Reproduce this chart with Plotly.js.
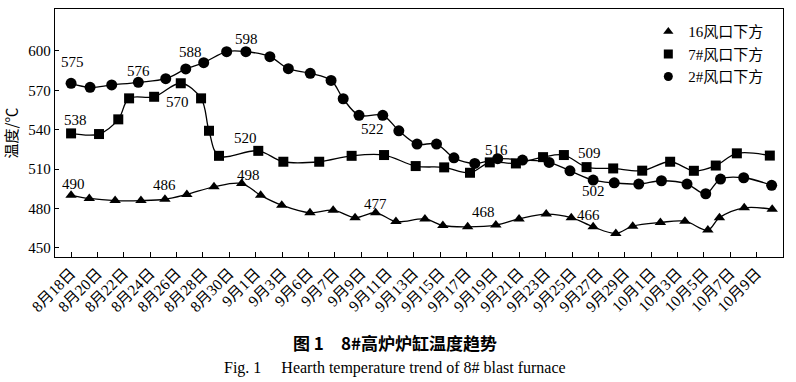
<!DOCTYPE html>
<html>
<head>
<meta charset="utf-8">
<script src="https://cdn.plot.ly/plotly-3.0.1.min.js"></script>
<style>html,body{margin:0;padding:0;background:#fff;}#chart{width:796px;height:382px;}</style>
</head>
<body>
<div id="chart"></div>
<script>
// x tick labels (categorical positions 0..26)
const tickLabels = ['8月18日','8月20日','8月22日','8月24日','8月26日','8月28日','8月30日','9月1日','9月3日','9月6日','9月7日','9月9日','9月11日','9月13日','9月15日','9月17日','9月19日','9月21日','9月23日','9月25日','9月27日','9月29日','10月1日','10月3日','10月5日','10月7日','10月9日'];

// 16风口下方 (triangles)
const triX = [0,0.69,1.67,2.65,3.56,4.39,5.42,6.47,7.19,7.99,9.06,9.94,10.77,11.55,12.32,13.42,14.10,15.04,16.11,16.99,18.02,18.97,19.80,20.66,21.30,22.35,23.28,24.15,24.59,25.53,26.59];
const triY = [490,487.6,486,486,487,490.7,496.5,499,490,482.5,476.7,478.7,473,476.7,470,472,467,466,467.3,472,475.7,473,466,461,466.5,469.3,470.3,463.5,473,480.5,479.3];

// 7#风口下方 (squares)
const sqX = [0,1.06,1.79,2.20,3.15,4.16,4.93,5.23,5.61,7.10,8.05,9.41,10.64,11.87,13.07,14.15,15.13,15.88,16.87,17.90,18.69,19.55,20.56,21.66,22.72,23.62,24.45,25.25,26.50];
const sqY = [537.2,536.7,547.9,563.9,565.1,575.4,563.9,539.2,520.1,523.9,515.6,515.6,520.1,520.7,512.3,511.3,507.2,515.1,514.3,519.1,520.7,511.5,510.5,508.8,515.6,508.7,512.7,522,520.3];

// 2#风口下方 (circles)
const cirX = [0,0.72,1.54,2.55,3.59,4.35,5.03,5.90,6.63,7.54,8.24,9.07,9.86,10.32,10.92,11.82,12.43,13.12,13.86,14.52,15.31,16.18,17.12,18.13,18.92,19.80,20.60,21.53,22.39,23.36,24.07,24.63,25.51,26.57];
const cirY = [575.4,572.3,574.1,576.1,578.9,586.3,591.1,599.5,599.5,595.7,586.5,583,577.6,563.6,551,551,539.2,529.1,529.1,518.6,514.3,517.9,516.9,515.1,508.7,501.6,499.5,498.6,501.1,498.6,491.2,502.4,503.4,497.6];

const seriesNames = ['16风口下方','7#风口下方','2#风口下方'];

// value labels: text, series, point index
const labelText   = ['575','576','588','598','538','570','520','522','490','486','498','477','516','509','502','468','466'];
const labelSeries = ['c','c','c','c','s','s','s','c','t','t','t','t','c','s','c','t','t'];
const labelPoint  = [0,3,5,8,0,5,8,14,0,4,7,13,21,21,25,17,21];

// label offsets in px (style / position)
const labelShift = [[1,21],[0,11],[5,17],[1,13],[4,13],[-3,-19],[26,18],[13,-14],[2,11],[0,14],[7,9],[0,9],[-1,9],[3,14],[0,-11],[16,15],[17,3]];

const serif = 'Liberation Serif, "Noto Sans CJK SC", serif';
const seriesData = {t:[triX,triY], s:[sqX,sqY], c:[cirX,cirY]};
const symbols = ['triangle-up','square','circle'];
const sizes = [10,10,11];
const keys = ['t','s','c'];

const traces = [];
keys.forEach((k,i)=>{
  traces.push({
    x: seriesData[k][0], y: seriesData[k][1], type:'scatter', mode:'lines+markers',
    name: seriesNames[i], showlegend:false,
    line:{color:'#000', width:1.3, shape:'spline', smoothing:1},
    marker:{symbol:symbols[i], size:sizes[i], color:'#000'}
  });
});
keys.forEach((k,i)=>{
  traces.push({
    x:[null], y:[null], type:'scatter', mode:'markers', name: seriesNames[i],
    marker:{symbol:symbols[i], size:9, color:'#000'}
  });
});

const annotations = labelText.map((t,i)=>{
  const d = seriesData[labelSeries[i]];
  return {
    x: d[0][labelPoint[i]], y: d[1][labelPoint[i]], xref:'x', yref:'y',
    text: t, showarrow:false, xshift: labelShift[i][0], yshift: labelShift[i][1],
    font:{family:serif, size:15, color:'#000'}
  };
});
annotations.push({
  xref:'paper', yref:'paper', x:0.467, y:-0.343, xanchor:'center', yanchor:'middle', showarrow:false,
  text:'<b>图 1　8#高炉炉缸温度趋势</b>', font:{family:'"Noto Sans CJK SC", sans-serif', size:17, color:'#000'}
});
annotations.push({
  xref:'paper', yref:'paper', x:0.467, y:-0.448, xanchor:'center', yanchor:'middle', showarrow:false,
  text:'Fig. 1　 Hearth temperature trend of 8# blast furnace', font:{family:serif, size:16, color:'#000'}
});

const layout = {
  width:796, height:382,
  margin:{l:55, r:13, t:9, b:125},
  paper_bgcolor:'#fff', plot_bgcolor:'#fff',
  showlegend:true,
  legend:{x:0.815, xanchor:'left', y:0.975, yanchor:'top', bgcolor:'rgba(0,0,0,0)',
          font:{family:serif, size:15, color:'#000'}, tracegroupgap:0, itemwidth:30},
  xaxis:{
    range:[-0.61, 27.0], tickmode:'array', tickvals: tickLabels.map((_,i)=>i), ticktext: tickLabels,
    tickangle:-45, ticks:'inside', ticklen:5, tickcolor:'#000', showline:true, linecolor:'#000', linewidth:1.2,
    mirror:true, showgrid:false, zeroline:false, tickfont:{family:serif, size:15.5, color:'#000'}
  },
  yaxis:{
    range:[443, 632], tickvals:[450,480,510,540,570,600], ticks:'inside', ticklen:4, tickcolor:'#000',
    showline:true, linecolor:'#000', linewidth:1.2, mirror:true, showgrid:false, zeroline:false,
    tickfont:{family:serif, size:15, color:'#000'},
    title:{text:'温度/℃', font:{family:'"Noto Sans CJK SC", sans-serif', size:15, color:'#000'}, standoff:8}
  },
  annotations: annotations
};

Plotly.newPlot('chart', traces, layout, {displayModeBar:false, staticPlot:true});
</script>
</body>
</html>
